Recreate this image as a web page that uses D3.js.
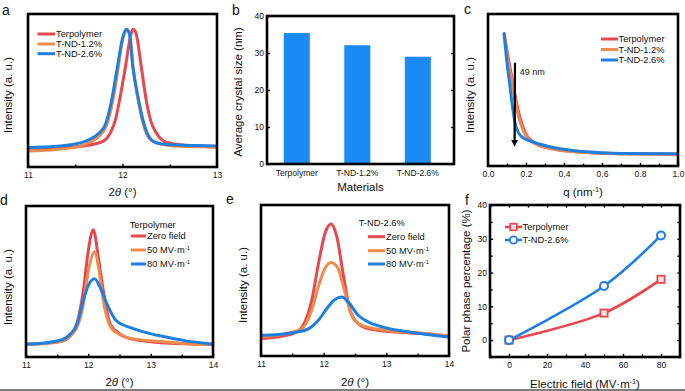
<!DOCTYPE html>
<html><head><meta charset="utf-8">
<script src="https://cdn.jsdelivr.net/npm/d3@7"></script>
<style>body{margin:0;background:#fff}svg text{font-family:"Liberation Sans",Arial,sans-serif;fill:#111}</style>
</head><body><svg id="c" width="685" height="391"></svg>
<script>
// ---------- DATA ----------
// Panel a: XRD, 2theta vs intensity (a.u., 0-100 of frame)
const aX_terp = [11.0, 11.4, 11.7, 11.8, 11.87, 11.93, 11.97, 12.03, 12.08, 12.11, 12.14, 12.2, 12.25, 12.3, 12.36, 12.47, 12.7, 13.0];
const aY_terp = [11, 12.5, 15, 17, 22, 32, 44, 65, 84, 90, 88, 65, 44, 30, 22, 16, 14, 13];
const aX_nd12 = [11.0, 11.3, 11.5, 11.65, 11.75, 11.83, 11.9, 11.955, 12.005, 12.045, 12.075, 12.115, 12.17, 12.22, 12.28, 12.4, 12.6, 13.0];
const aY_nd12 = [10.5, 11.5, 13, 16, 20, 27, 44, 65, 84, 89, 87, 64, 42, 28, 19, 15, 13.5, 13];
const aX_nd26 = [11.0, 11.3, 11.5, 11.65, 11.75, 11.82, 11.886, 11.945, 12.0, 12.04, 12.07, 12.11, 12.17, 12.22, 12.27, 12.35, 12.5, 12.8, 13.0];
const aY_nd26 = [12.7, 13.5, 15, 18, 22, 28, 44, 65, 84, 90, 88, 65, 44, 30, 21, 16, 14.5, 14, 13.8];
const aTicks = [11, 12, 13];
const aMinor = [11.5, 12.5];

// Panel b: average crystal size
const bCats = ["Terpolymer", "T-ND-1.2%", "T-ND-2.6%"];
const bSize = [35.4, 32.1, 29.0];
const bTicks = [0, 10, 20, 30, 40];

// Panel c: SAXS
const cX_terp = [0.085, 0.10, 0.12, 0.14, 0.16, 0.18, 0.20, 0.23, 0.27, 0.35, 0.5, 0.7, 1.0];
const cY_terp = [87, 76, 62, 48, 36, 27, 21, 16.5, 13.5, 11, 9, 8, 7.7];
const cX_nd12 = [0.085, 0.10, 0.12, 0.14, 0.16, 0.18, 0.20, 0.23, 0.27, 0.35, 0.5, 0.7, 1.0];
const cY_nd12 = [87, 74, 59, 45, 33, 25, 20, 16, 13.5, 11, 9, 8, 7.8];
const cX_nd26 = [0.085, 0.10, 0.115, 0.13, 0.145, 0.16, 0.18, 0.22, 0.27, 0.35, 0.5, 0.7, 1.0];
const cY_nd26 = [87, 68, 53, 38, 27, 22, 19, 16.5, 14.5, 12, 9.5, 8.2, 8];
const cTicks = [0, 0.2, 0.4, 0.6, 0.8, 1.0];
const cMinor = [0.1, 0.3, 0.5, 0.7, 0.9];
const cArrowQ = [0.142, 0.140];
const cArrowI = [68, 15];

// Panel d: terpolymer under field
const dX_zero = [11.0, 11.5, 11.655, 11.815, 11.92, 12.0, 12.08, 12.16, 12.24, 12.35, 12.5, 12.72, 13.25, 14.0];
const dY_zero = [8.4, 10, 12, 22, 44, 70.6, 84.3, 66, 44, 22, 15.5, 11.7, 9.3, 8.4];
const dX_50 = [11.0, 11.5, 11.655, 11.82, 11.92, 12.0, 12.1, 12.17, 12.24, 12.4, 12.72, 13.25, 13.8, 14.0];
const dY_50 = [8.4, 10, 12.5, 20, 35, 57, 69.5, 58, 37.5, 17.7, 12, 10, 8.4, 8.4];
const dX_80 = [11.0, 11.5, 11.655, 11.82, 11.92, 12.0, 12.1, 12.19, 12.3, 12.45, 12.72, 12.99, 13.25, 13.52, 14.0];
const dY_80 = [8.4, 10.6, 13.2, 22, 37.5, 47.5, 51.9, 46, 35, 24, 18.8, 15.5, 13.2, 11, 8.4];
const deTicks = [11, 12, 13, 14];
const deMinor = [11.5, 12.5, 13.5];

// Panel e: T-ND-2.6% under field
const eX_zero = [11.0, 11.49, 11.65, 11.81, 11.915, 12.02, 12.117, 12.21, 12.31, 12.42, 12.55, 12.71, 13.09, 13.62, 14.0];
const eY_zero = [11.5, 14.6, 19, 36.9, 60.8, 81, 87.4, 79, 54.6, 30.3, 21.5, 18.1, 16, 14.8, 13.3];
const eX_50 = [11.0, 11.49, 11.65, 11.81, 11.915, 12.02, 12.117, 12.23, 12.33, 12.44, 12.55, 12.82, 13.09, 13.62, 14.0];
const eY_50 = [12.6, 15.7, 18, 30.5, 46, 58, 62, 58, 43.6, 28, 21.5, 18, 16.6, 14.8, 13.3];
const eX_80 = [11.0, 11.49, 11.755, 11.915, 12.07, 12.18, 12.29, 12.39, 12.55, 12.71, 12.98, 13.35, 13.62, 14.0];
const eY_80 = [13.7, 15.3, 18, 23.7, 32.5, 37.4, 39, 35.8, 27, 22.6, 18.8, 16, 14.4, 12.6];

// Panel f: polar phase percentage
const fField = [0, 50, 80];
const fTerp = [0, 8, 18];
const fND = [0, 16, 31];
const fXTicks = [0, 20, 40, 60, 80];
const fXMinor = [-10, 10, 30, 50, 70, 90];
const fYTicks = [0, 10, 20, 30, 40];
const fYMinor = [-5, 5, 15, 25, 35];

// ---------- STYLE ----------
const RED = "#e8474f", ORANGE = "#ef8a4d", BLUE = "#1f7fe1", BAR = "#1c8af4";
const TICKFS = 8.5, LEGFS = 9.3, LABFS = 11.5, LETFS = 14;

const svg = d3.select("#c");
const defs = svg.append("defs");
defs.append("marker").attr("id", "arr").attr("viewBox", "0 0 10 10")
  .attr("refX", 5).attr("refY", 5).attr("markerWidth", 3.2).attr("markerHeight", 4.2)
  .attr("orient", "auto").append("path").attr("d", "M0,0 L10,5 L0,10 z").attr("fill", "#000");

let clipN = 0;
function makePanel(box, xDom, yDom) {
  const x = d3.scaleLinear().domain(xDom).range([box.L, box.R]);
  const y = d3.scaleLinear().domain(yDom).range([box.B, box.T]);
  const id = "clip" + (clipN++);
  defs.append("clipPath").attr("id", id).append("rect")
    .attr("x", box.L).attr("y", box.T).attr("width", box.R - box.L).attr("height", box.B - box.T);
  const g = svg.append("g");
  const plot = g.append("g").attr("clip-path", `url(#${id})`);
  return { x, y, g, plot, box };
}
function drawFrame(p) {
  const b = p.box;
  p.g.append("rect").attr("x", b.L).attr("y", b.T).attr("width", b.R - b.L).attr("height", b.B - b.T)
    .attr("fill", "none").attr("stroke", "#000").attr("stroke-width", 2.6);
}
function styleAxis(sel, fs) {
  sel.select(".domain").remove();
  sel.selectAll("line").attr("stroke", "#000").attr("stroke-width", 1.4);
  sel.selectAll("text").style("font-size", fs + "px").attr("fill", "#111")
    .style("font-family", "Liberation Sans, Arial, sans-serif");
}
function bottomAxis(p, vals, minor, fmt, pad) {
  const a = p.g.append("g").attr("transform", `translate(0,${p.box.B})`)
    .call(d3.axisBottom(p.x).tickValues(vals).tickSizeInner(-3.2).tickSizeOuter(0).tickPadding(pad).tickFormat(fmt));
  styleAxis(a, TICKFS);
  if (minor) {
    const m = p.g.append("g").attr("transform", `translate(0,${p.box.B})`)
      .call(d3.axisBottom(p.x).tickValues(minor).tickSizeInner(-2.4).tickSizeOuter(0).tickFormat(""));
    styleAxis(m, TICKFS);
  }
}
function lineSeries(p, xs, ys, color, curve, w) {
  const pts = xs.map((v, i) => [v, ys[i]]);
  p.plot.append("path").datum(pts).attr("fill", "none").attr("stroke", color)
    .attr("stroke-width", w || 3).attr("stroke-linejoin", "round").attr("stroke-linecap", "round")
    .attr("d", d3.line().x(d => p.x(d[0])).y(d => p.y(d[1])).curve(curve || d3.curveMonotoneX));
}
function label(x, y, txt, opts) {
  const t = svg.append("text").attr("x", x).attr("y", y).style("font-size", (opts && opts.fs || LABFS) + "px")
    .attr("text-anchor", opts && opts.anchor || "middle");
  if (opts && opts.rotate) t.attr("transform", `rotate(-90,${x},${y})`);
  return t;
}
function addParts(t, parts) {
  parts.forEach(pt => {
    const s = t.append("tspan").text(pt.t);
    if (pt.it) s.style("font-style", "italic");
    if (pt.sup) s.attr("baseline-shift", "super").style("font-size", "0.62em");
  });
  return t;
}
function legendLines(items, x0, x1, tx, ys, fs) {
  items.forEach((it, i) => {
    svg.append("line").attr("x1", x0).attr("x2", x1).attr("y1", ys[i]).attr("y2", ys[i])
      .attr("stroke", it.c).attr("stroke-width", 3);
    const t = svg.append("text").attr("x", tx).attr("y", ys[i] + 3.3).style("font-size", (fs || LEGFS) + "px");
    addParts(t, it.parts);
  });
}
const thetaLabel = [{ t: "2" }, { t: "θ", it: true }, { t: " (°)" }];
const fieldParts = v => [{ t: v + " MV·m" }, { t: "-1", sup: true }];

// ---------- PANEL a ----------
const pa = makePanel({ L: 28, T: 14, R: 217, B: 167 }, [11, 13], [0, 100]);
lineSeries(pa, aX_terp, aY_terp, RED);
lineSeries(pa, aX_nd12, aY_nd12, ORANGE);
lineSeries(pa, aX_nd26, aY_nd26, BLUE);
bottomAxis(pa, aTicks, aMinor, d3.format("d"), 5);
drawFrame(pa);
legendLines([{ c: RED, parts: [{ t: "Terpolymer" }] }, { c: ORANGE, parts: [{ t: "T-ND-1.2%" }] }, { c: BLUE, parts: [{ t: "T-ND-2.6%" }] }],
  37.5, 55, 56, [34, 44, 53.7]);
label(12, 95, "Intensity (a. u.)", { rotate: true }).text("Intensity (a. u.)");
addParts(label((28 + 217) / 2, 195.5, ""), thetaLabel);
label(2, 15, "", { fs: LETFS, anchor: "start" }).text("a");

// ---------- PANEL b ----------
const bBox = { L: 267, T: 16, R: 454, B: 164 };
const bx = d3.scaleBand().domain(bCats).range([bBox.L, bBox.R]).paddingInner(0.57).paddingOuter(0.33).align(0.42);
const by = d3.scaleLinear().domain([0, 40]).range([bBox.B, bBox.T]);
const gb = svg.append("g");
gb.selectAll("rect.bar").data(bCats).enter().append("rect").attr("class", "bar")
  .attr("x", d => bx(d)).attr("width", bx.bandwidth())
  .attr("y", (d, i) => by(bSize[i])).attr("height", (d, i) => by(0) - by(bSize[i]))
  .attr("fill", BAR);
const bl = gb.append("g").attr("transform", `translate(${bBox.L},0)`)
  .call(d3.axisLeft(by).tickValues(bTicks).tickSizeInner(-3).tickSizeOuter(0).tickPadding(3));
styleAxis(bl, TICKFS);
const br = gb.append("g").attr("transform", `translate(${bBox.R},0)`)
  .call(d3.axisRight(by).tickValues(bTicks).tickSizeInner(-3).tickSizeOuter(0).tickFormat(""));
styleAxis(br, TICKFS);
const bb = gb.append("g").attr("transform", `translate(0,${bBox.B})`)
  .call(d3.axisBottom(bx).tickSize(0).tickPadding(6));
styleAxis(bb, TICKFS);
gb.append("rect").attr("x", bBox.L).attr("y", bBox.T).attr("width", bBox.R - bBox.L).attr("height", bBox.B - bBox.T)
  .attr("fill", "none").attr("stroke", "#000").attr("stroke-width", 2.6);
label(242, 92, "", { rotate: true }).text("Average crystal size (nm)");
label((bBox.L + bBox.R) / 2, 191, "").text("Materials");
label(232, 15, "", { fs: LETFS, anchor: "start" }).text("b");

// ---------- PANEL c ----------
const pc = makePanel({ L: 488, T: 14, R: 678, B: 166 }, [0, 1], [0, 100]);
lineSeries(pc, cX_terp, cY_terp, RED);
lineSeries(pc, cX_nd12, cY_nd12, ORANGE);
lineSeries(pc, cX_nd26, cY_nd26, BLUE);
pc.g.append("line").attr("x1", pc.x(cArrowQ[0])).attr("y1", pc.y(cArrowI[0]))
  .attr("x2", pc.x(cArrowQ[1])).attr("y2", pc.y(cArrowI[1]))
  .attr("stroke", "#000").attr("stroke-width", 2.2).attr("marker-end", "url(#arr)");
svg.append("text").attr("x", pc.x(0.167)).attr("y", pc.y(60)).style("font-size", "9px").text("49 nm");
bottomAxis(pc, cTicks, cMinor, d3.format(".1f"), 5);
drawFrame(pc);
legendLines([{ c: RED, parts: [{ t: "Terpolymer" }] }, { c: ORANGE, parts: [{ t: "T-ND-1.2%" }] }, { c: BLUE, parts: [{ t: "T-ND-2.6%" }] }],
  601, 618, 618.5, [39, 49.5, 60]);
label(474, 95, "", { rotate: true }).text("Intensity (a. u.)");
addParts(label(583, 196, ""), [{ t: "q (nm" }, { t: "-1", sup: true }, { t: ")" }]);
label(464, 14, "", { fs: LETFS, anchor: "start" }).text("c");

// ---------- PANEL d ----------
const pd = makePanel({ L: 26, T: 206, R: 213, B: 357 }, [11, 14], [0, 100]);
lineSeries(pd, dX_zero, dY_zero, RED);
lineSeries(pd, dX_50, dY_50, ORANGE);
lineSeries(pd, dX_80, dY_80, BLUE);
bottomAxis(pd, deTicks, deMinor, d3.format("d"), 5);
drawFrame(pd);
label(152.7, 227.5, "", { fs: LEGFS }).text("Terpolymer");
legendLines([{ c: RED, parts: [{ t: "Zero field" }] }, { c: ORANGE, parts: fieldParts(50) }, { c: BLUE, parts: fieldParts(80) }],
  131, 146, 147, [236, 250, 264]);
label(12, 287, "", { rotate: true }).text("Intensity (a. u.)");
addParts(label((26 + 213) / 2, 386, ""), thetaLabel);
label(0, 205, "", { fs: LETFS, anchor: "start" }).text("d");

// ---------- PANEL e ----------
const pe = makePanel({ L: 261, T: 205, R: 449, B: 356 }, [11, 14], [0, 100]);
lineSeries(pe, eX_zero, eY_zero, RED);
lineSeries(pe, eX_50, eY_50, ORANGE);
lineSeries(pe, eX_80, eY_80, BLUE);
bottomAxis(pe, deTicks, deMinor, d3.format("d"), 5);
drawFrame(pe);
label(381.7, 226.3, "", { fs: LEGFS }).text("T-ND-2.6%");
legendLines([{ c: RED, parts: [{ t: "Zero field" }] }, { c: ORANGE, parts: fieldParts(50) }, { c: BLUE, parts: fieldParts(80) }],
  368, 385, 386, [236.7, 250.7, 264]);
label(247, 285, "", { rotate: true }).text("Intensity (a. u.)");
addParts(label((261 + 449) / 2, 386, ""), thetaLabel);
label(226, 204, "", { fs: LETFS, anchor: "start" }).text("e");

// ---------- PANEL f ----------
const pf = makePanel({ L: 490, T: 205, R: 680, B: 357 }, [-10, 90], [-5, 40]);
lineSeries(pf, fField, fTerp, RED, d3.curveCatmullRom, 2.6);
lineSeries(pf, fField, fND, BLUE, d3.curveCatmullRom, 2.6);
const fpts = (vals) => fField.map((v, i) => [v, vals[i]]);
pf.g.selectAll("rect.mk").data(fpts(fTerp)).enter().append("rect").attr("class", "mk")
  .attr("x", d => pf.x(d[0]) - 3.6).attr("y", d => pf.y(d[1]) - 3.6).attr("width", 7.2).attr("height", 7.2)
  .attr("fill", "#fbe3e3").attr("stroke", RED).attr("stroke-width", 1.8);
pf.g.selectAll("circle.mk").data(fpts(fND)).enter().append("circle").attr("class", "mk")
  .attr("cx", d => pf.x(d[0])).attr("cy", d => pf.y(d[1])).attr("r", 4)
  .attr("fill", "#fff").attr("stroke", BLUE).attr("stroke-width", 2);
const fb = pf.g.append("g").attr("transform", `translate(0,${pf.box.B})`)
  .call(d3.axisBottom(pf.x).tickValues(fXTicks).tickSizeInner(-3.2).tickSizeOuter(0).tickPadding(5).tickFormat(d3.format("d")));
styleAxis(fb, TICKFS);
[["axisBottom", pf.box.B, fXMinor, pf.x], ["axisTop", pf.box.T, fXTicks.concat(fXMinor), pf.x]].forEach(([fn, pos, v, sc]) => {
  const a = pf.g.append("g").attr("transform", `translate(0,${pos})`)
    .call(d3[fn](sc).tickValues(v).tickSizeInner(-2.6).tickSizeOuter(0).tickFormat(""));
  styleAxis(a, TICKFS);
});
const fl = pf.g.append("g").attr("transform", `translate(${pf.box.L},0)`)
  .call(d3.axisLeft(pf.y).tickValues(fYTicks).tickSizeInner(-3.2).tickSizeOuter(0).tickPadding(3).tickFormat(d3.format("d")));
styleAxis(fl, TICKFS);
[["axisLeft", pf.box.L, fYMinor], ["axisRight", pf.box.R, fYTicks.concat(fYMinor)]].forEach(([fn, pos, v]) => {
  const a = pf.g.append("g").attr("transform", `translate(${pos},0)`)
    .call(d3[fn](pf.y).tickValues(v).tickSizeInner(-2.6).tickSizeOuter(0).tickFormat(""));
  styleAxis(a, TICKFS);
});
drawFrame(pf);
// legend f
[[RED, "Terpolymer", "sq"], [BLUE, "T-ND-2.6%", "ci"]].forEach(([c, t, m], i) => {
  const yy = [227, 240][i];
  svg.append("line").attr("x1", 505).attr("x2", 522).attr("y1", yy).attr("y2", yy).attr("stroke", c).attr("stroke-width", 2.6);
  if (m === "sq") svg.append("rect").attr("x", 513.5 - 3.3).attr("y", yy - 3.3).attr("width", 6.6).attr("height", 6.6)
    .attr("fill", "#fbe3e3").attr("stroke", c).attr("stroke-width", 1.7);
  else svg.append("circle").attr("cx", 513.5).attr("cy", yy).attr("r", 3.6).attr("fill", "#fff").attr("stroke", c).attr("stroke-width", 1.8);
  svg.append("text").attr("x", 522.5).attr("y", yy + 3.3).style("font-size", LEGFS + "px").text(t);
});
label(470, 281, "", { rotate: true }).text("Polar phase percentage (%)");
addParts(label(585, 388, ""), [{ t: "Electric field (MV·m" }, { t: "-1", sup: true }, { t: ")" }]);
label(465, 205, "", { fs: LETFS, anchor: "start" }).text("f");

// bottom rule
svg.append("line").attr("x1", 0).attr("x2", 685).attr("y1", 390).attr("y2", 390).attr("stroke", "#000").attr("stroke-width", 1.2);
</script></body></html>
